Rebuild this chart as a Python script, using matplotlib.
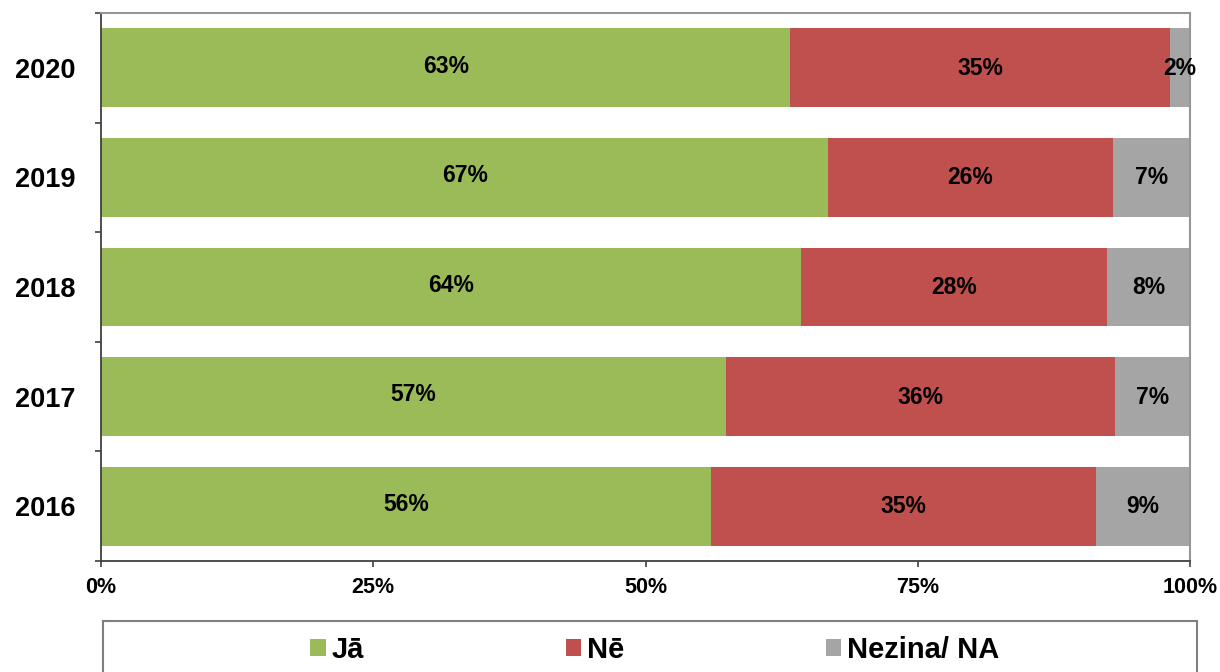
import matplotlib
matplotlib.use("Agg")
import matplotlib.pyplot as plt
from matplotlib.patches import Patch, Rectangle
import numpy as np

plt.rcParams['font.family'] = ['Liberation Sans', 'DejaVu Sans']
plt.rcParams['font.weight'] = 'bold'

years = ['2016', '2017', '2018', '2019', '2020']
ja = [56.0, 57.4, 64.3, 66.8, 63.3]
ne = [35.4, 35.7, 28.1, 26.1, 34.9]
nezina = [8.6, 6.9, 7.6, 7.1, 1.8]
series_names = ['Jā', 'Nē', 'Nezina/ NA']
colors = ['#9BBB59', '#C0504D', '#A5A5A5']
xticks = [0, 25, 50, 75, 100]
xtick_labels = ['0%', '25%', '50%', '75%', '100%']

fig = plt.figure(figsize=(12.2, 6.72), dpi=100)
ax = fig.add_axes([101/1220, 1 - 561/672, (1190 - 101)/1220, (561 - 13)/672])

y = np.arange(len(years))
left = np.zeros(len(years))
for si, (vals, col) in enumerate(zip([ja, ne, nezina], colors)):
    vals = np.array(vals)
    ax.barh(y, vals, left=left, height=0.72, color=col, edgecolor='none')
    for yi, l, v in zip(y, left, vals):
        dy = 0.015 if si == 0 else -0.005
        ax.text(l + v / 2, yi + dy, f"{int(v + 0.5):d}%", ha='center', va='center',
                fontsize=16.5, fontweight='bold', color='black')
    left = left + vals

ax.set_xlim(0, 100)
ax.set_ylim(-0.5, len(years) - 0.5)
ax.set_xticks(xticks)
ax.set_xticklabels(xtick_labels, fontsize=15.5, fontweight='bold')
ax.set_yticks(y)
ax.set_yticklabels(years, fontsize=19.5, fontweight='bold')
ax.set_yticks(np.arange(-0.5, len(years), 1.0), minor=True)
ax.tick_params(axis='y', which='major', length=0, pad=18)
ax.tick_params(axis='y', which='minor', length=4.5, width=1.2, color='#404040', direction='out')
ax.tick_params(axis='x', which='major', length=4.5, width=1.2, color='#404040', direction='out', pad=7)

for s in ['left', 'bottom']:
    ax.spines[s].set_color('#404040')
    ax.spines[s].set_linewidth(1.3)
for s in ['top', 'right']:
    ax.spines[s].set_color('#969696')
    ax.spines[s].set_linewidth(1.5)

# legend frame
fig.patches.append(Rectangle((103/1220, -0.05), (1197 - 103)/1220, 0.05 + (1 - 621/672),
                             transform=fig.transFigure, fill=False,
                             edgecolor='#7f7f7f', linewidth=1.5, clip_on=False))
handles = [Patch(facecolor=c, edgecolor='none') for c in colors]
fig.legend(handles, series_names, loc='center', bbox_to_anchor=(655/1220, 1 - 650/672),
           ncol=3, frameon=False, prop={'weight': 'bold', 'size': 21},
           handlelength=0.52, handleheight=0.52, handletextpad=0.22,
           columnspacing=6.9, borderaxespad=0, borderpad=0)

fig.savefig('out.png', dpi=100)
